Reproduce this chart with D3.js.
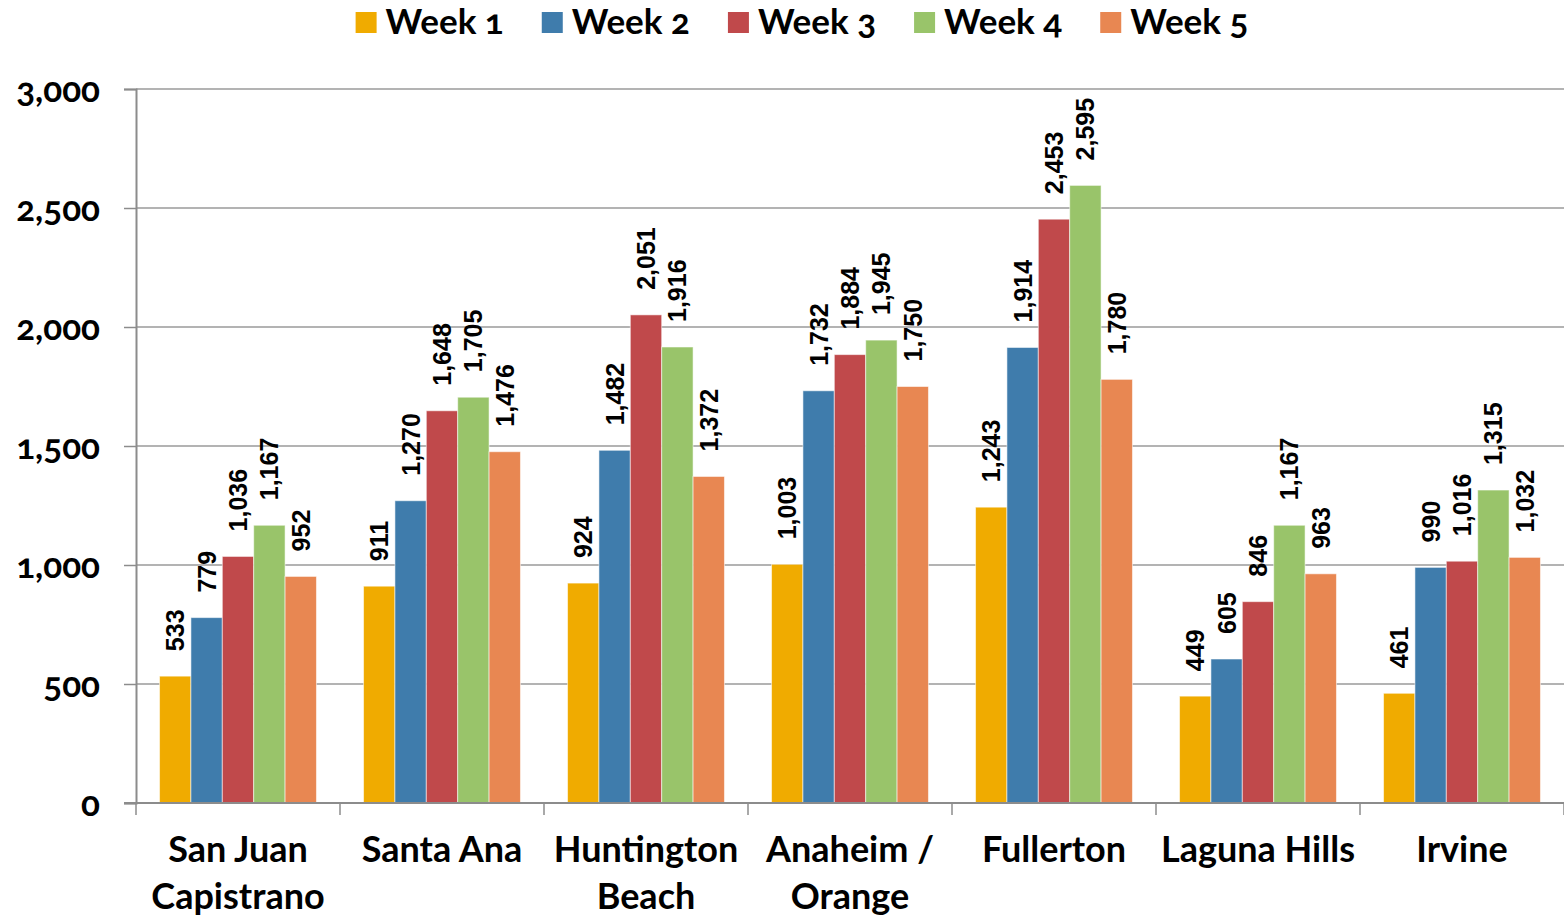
<!DOCTYPE html>
<html>
<head>
<meta charset="utf-8">
<script src="https://cdn.jsdelivr.net/npm/d3@7"></script>
<style>
  body { margin: 0; background: #fff; }
  svg { display: block; }
  .lato { font-family: Lato, "Open Sans", sans-serif; font-weight: 700; font-variant-numeric: oldstyle-nums; font-feature-settings: "onum" 1; }
</style>
</head>
<body>
<svg id="chart" width="1564" height="919"></svg>
<script>
const categories = [
  ["San Juan", "Capistrano"],
  ["Santa Ana"],
  ["Huntington", "Beach"],
  ["Anaheim /", "Orange"],
  ["Fullerton"],
  ["Laguna Hills"],
  ["Irvine"]
];
const seriesNames = ["Week 1", "Week 2", "Week 3", "Week 4", "Week 5"];
const seriesColors = ["#F0AB00", "#3F7CAC", "#C0494B", "#99C46A", "#E88752"];
const week1 = [533, 911, 924, 1003, 1243, 449, 461];
const week2 = [779, 1270, 1482, 1732, 1914, 605, 990];
const week3 = [1036, 1648, 2051, 1884, 2453, 846, 1016];
const week4 = [1167, 1705, 1916, 1945, 2595, 1167, 1315];
const week5 = [952, 1476, 1372, 1750, 1780, 963, 1032];
const yTicks = [0, 500, 1000, 1500, 2000, 2500, 3000];

const seriesValues = [week1, week2, week3, week4, week5];
const catKeys = categories.map(c => c.join(" "));

const svg = d3.select("#chart");
const plotL = 136, plotR = 1564, plotT = 89, plotB = 803;

const x0 = d3.scaleBand().domain(catKeys).range([plotL, plotR]).padding(0);
const x1 = d3.scaleBand().domain(seriesNames).range([0, x0.bandwidth()]).paddingInner(0).paddingOuter(0.75);
const y = d3.scaleLinear().domain([0, 3000]).range([plotB, plotT]);
const fmt = d3.format(",");

// gridlines
svg.append("g").selectAll("line").data(yTicks.filter(t => t > 0)).join("line")
  .attr("x1", plotL).attr("x2", plotR)
  .attr("y1", d => y(d)).attr("y2", d => y(d))
  .attr("stroke", "#9a9a9a").attr("stroke-width", 1.5);

// y axis
const yAxis = svg.append("g").attr("transform", `translate(${plotL},0)`)
  .call(d3.axisLeft(y).tickValues(yTicks).tickFormat(fmt).tickSize(12).tickPadding(24));
yAxis.select(".domain").attr("stroke", "#8c8c8c").attr("stroke-width", 2);
yAxis.selectAll(".tick line").attr("stroke", "#8c8c8c").attr("stroke-width", 1.5);
yAxis.selectAll(".tick text").attr("class", "lato").attr("font-size", 35).attr("fill", "#000").attr("dy", "0.36em");

// bars
const groups = svg.append("g").selectAll("g").data(catKeys).join("g")
  .attr("transform", d => `translate(${x0(d)},0)`);

groups.selectAll("rect").data((d, i) => seriesNames.map((s, j) => ({s, j, v: seriesValues[j][i]}))).join("rect")
  .attr("x", d => x1(d.s))
  .attr("width", x1.bandwidth())
  .attr("y", d => y(d.v))
  .attr("height", d => y(0) - y(d.v))
  .attr("fill", d => seriesColors[d.j])
  .attr("stroke", "rgba(255,255,255,0.55)").attr("stroke-width", 1);

groups.selectAll("text.lbl").data((d, i) => seriesNames.map((s, j) => ({s, j, v: seriesValues[j][i]}))).join("text")
  .attr("class", "lbl")
  .attr("transform", d => `translate(${x1(d.s) + x1.bandwidth() / 2},${y(d.v) - 25}) rotate(-90)`)
  .attr("dy", "0.36em")
  .attr("text-anchor", "start")
  .attr("font-family", "Liberation Sans, Arial, sans-serif")
  .attr("font-weight", 700)
  .attr("font-size", 25)
  .attr("fill", "#000")
  .text(d => fmt(d.v));

// x axis
const xAxisG = svg.append("g");
xAxisG.append("line").attr("x1", plotL - 12).attr("x2", plotR).attr("y1", plotB).attr("y2", plotB)
  .attr("stroke", "#8c8c8c").attr("stroke-width", 2);
const bounds = catKeys.map(k => x0(k)).concat([plotR]);
xAxisG.selectAll("line.tk").data(bounds).join("line").attr("class", "tk")
  .attr("x1", d => d).attr("x2", d => d).attr("y1", plotB).attr("y2", plotB + 12)
  .attr("stroke", "#8c8c8c").attr("stroke-width", 1.5);

const catText = xAxisG.selectAll("text").data(categories).join("text")
  .attr("class", "lato")
  .attr("font-size", 36)
  .attr("fill", "#000")
  .attr("text-anchor", "middle")
  .attr("x", (d, i) => x0(catKeys[i]) + x0.bandwidth() / 2);
catText.selectAll("tspan").data(d => d).join("tspan")
  .attr("x", function() { return d3.select(this.parentNode).attr("x"); })
  .attr("y", (d, i) => 862 + i * 47)
  .text(d => d);

// legend
const legend = svg.append("g");
const items = legend.selectAll("g").data(seriesNames).join("g");
items.append("rect").attr("width", 21).attr("height", 21).attr("y", 12)
  .attr("fill", (d, i) => seriesColors[i]);
items.append("text").attr("class", "lato").attr("font-size", 35).attr("fill", "#000")
  .attr("x", 30).attr("y", 34).text(d => d);
const widths = [];
items.each(function() {
  widths.push(d3.select(this).select("text").node().getComputedTextLength() + 30);
});
const gap = 38;
const total = d3.sum(widths) + gap * (widths.length - 1);
let xpos = 802 - total / 2;
items.attr("transform", (d, i) => {
  const t = `translate(${xpos},0)`;
  xpos += widths[i] + gap;
  return t;
});
</script>
</body>
</html>
